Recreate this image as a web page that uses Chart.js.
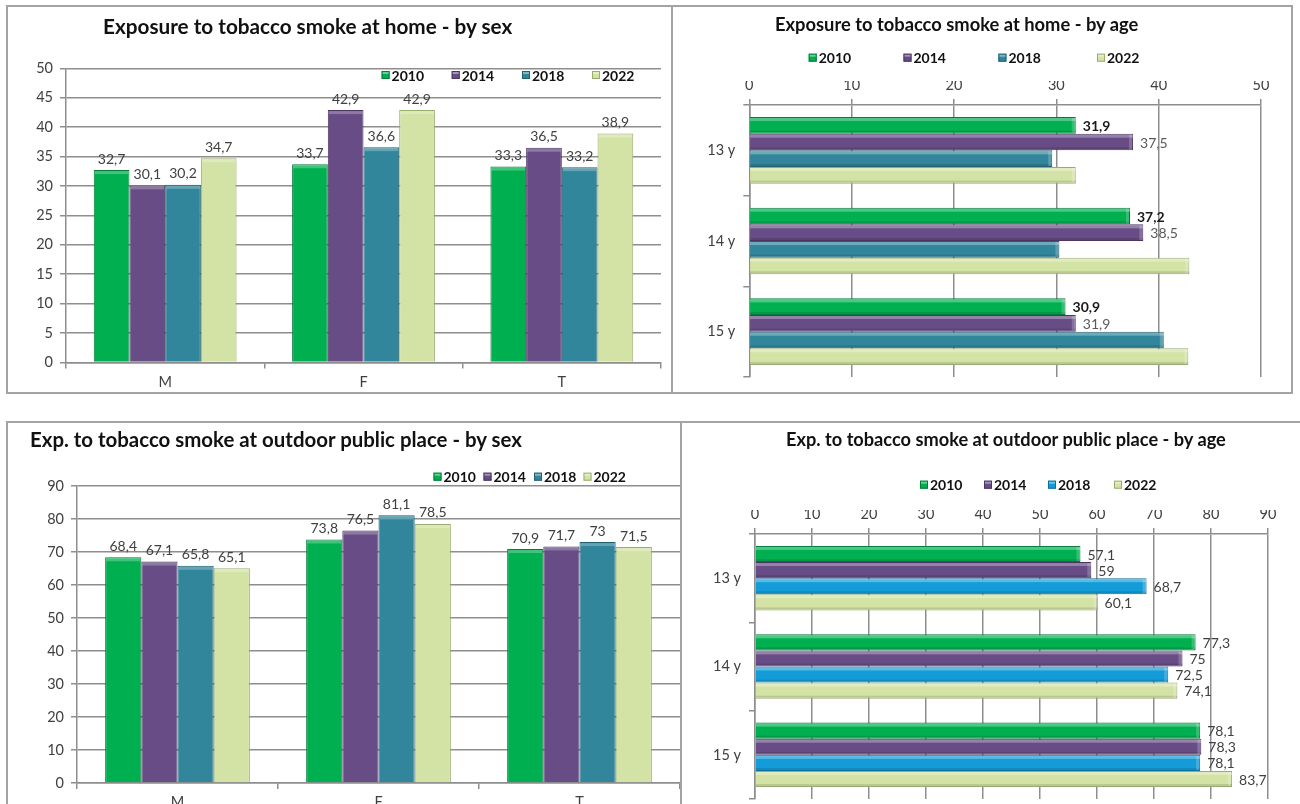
<!DOCTYPE html>
<html>
<head>
<meta charset="utf-8">
<script src="https://cdn.jsdelivr.net/npm/chart.js@4.4.1/dist/chart.umd.min.js"></script>
<style>
html, body { margin: 0; padding: 0; background: #fff; width: 1300px; height: 804px; overflow: hidden; }
.panel { position: absolute; border: 2px solid #a3a3a3; box-sizing: border-box; background: #fff; }
.panel canvas { position: absolute; left: 0; top: 0; }
.ttl { position: absolute; font-family: Lato, "Open Sans", sans-serif; font-weight: bold; color: #111; white-space: nowrap; line-height: 1; }
</style>
</head>
<body>

<div class="panel" style="left:6px;top:5px;width:667px;height:389px"><canvas id="c1"></canvas></div>
<div class="panel" style="left:671px;top:5px;width:622px;height:389px"><canvas id="c2"></canvas></div>
<div class="panel" style="left:6px;top:421px;width:676px;height:400px"><canvas id="c3"></canvas></div>
<div class="panel" style="left:680px;top:421px;width:640px;height:400px"><canvas id="c4"></canvas></div>

<div class="ttl" id="t1">Exposure to tobacco smoke at home - by sex</div>
<div class="ttl" id="t2">Exposure to tobacco smoke at home - by age</div>
<div class="ttl" id="t3">Exp. to tobacco smoke at outdoor public place - by sex</div>
<div class="ttl" id="t4">Exp. to tobacco smoke at outdoor public place - by age</div>

<script>
// ---- data ----
const years = ['2010', '2014', '2018', '2022'];
const sexCats = ['M', 'F', 'T'];
const ageCats = ['13 y', '14 y', '15 y'];

// exposure at home, by sex
const homeSex2010 = [32.7, 33.7, 33.3];
const homeSex2014 = [30.1, 42.9, 36.5];
const homeSex2018 = [30.2, 36.6, 33.2];
const homeSex2022 = [34.7, 42.9, 38.9];
const homeSexTicks = [0, 5, 10, 15, 20, 25, 30, 35, 40, 45, 50];

// exposure at home, by age (2018 / 2022 have no printed labels)
const homeAge2010 = [31.9, 37.2, 30.9];
const homeAge2014 = [37.5, 38.5, 31.9];
const homeAge2018 = [29.6, 30.3, 40.5];
const homeAge2022 = [31.9, 43.0, 42.9];
const homeAgeTicks = [0, 10, 20, 30, 40, 50];

// outdoor public place, by sex
const outSex2010 = [68.4, 73.8, 70.9];
const outSex2014 = [67.1, 76.5, 71.7];
const outSex2018 = [65.8, 81.1, 73];
const outSex2022 = [65.1, 78.5, 71.5];
const outSexTicks = [0, 10, 20, 30, 40, 50, 60, 70, 80, 90];

// outdoor public place, by age
const outAge2010 = [57.1, 77.3, 78.1];
const outAge2014 = [59, 75, 78.3];
const outAge2018 = [68.7, 72.5, 78.1];
const outAge2022 = [60.1, 74.1, 83.7];
const outAgeTicks = [0, 10, 20, 30, 40, 50, 60, 70, 80, 90];

// ---- styles ----
const FONT = 'Lato, "Open Sans", sans-serif';
const GRID = '#8e8e8e';
const fillTeal = ['#00b050', '#684c86', '#31869c', '#d3e3a5'];
const edgeTeal = ['#067a3a', '#4b3563', '#22606f', '#9aab70'];
const fillBlue = ['#00b050', '#684c86', '#139cd8', '#d3e3a5'];
const edgeBlue = ['#067a3a', '#4b3563', '#0d6f9c', '#9aab70'];

Chart.defaults.font.family = FONT;
Chart.defaults.animation = false;

function fmt(v) { return String(v).replace('.', ','); }

// soft bevel on each bar, like the office 3D look
const bevel = {
  id: 'bevel',
  afterDatasetsDraw(chart) {
    const ctx = chart.ctx;
    const horiz = chart.options.indexAxis === 'y';
    chart.data.datasets.forEach((ds, i) => {
      chart.getDatasetMeta(i).data.forEach(bar => {
        const p = bar.getProps(['x', 'y', 'base', 'width', 'height'], true);
        ctx.save();
        if (horiz) {
          const top = p.y - p.height / 2, left = Math.min(p.base, p.x), w = Math.abs(p.x - p.base);
          ctx.fillStyle = 'rgba(255,255,255,0.3)';
          ctx.fillRect(left, top + 1, w, 3);
          ctx.fillStyle = 'rgba(0,0,0,0.12)';
          ctx.fillRect(left, top + p.height - 3, w, 2);
          ctx.fillStyle = 'rgba(255,255,255,0.2)';
          ctx.fillRect(p.x - 4, top + 1, 3, p.height - 2);
        } else {
          const left = p.x - p.width / 2;
          ctx.fillStyle = 'rgba(255,255,255,0.25)';
          ctx.fillRect(left + 1, p.y + 1, p.width - 2, 3);
        }
        ctx.restore();
      });
    });
  }
};

// value labels (comma decimals)
const vlabels = {
  id: 'vlabels',
  afterDatasetsDraw(chart) {
    const ctx = chart.ctx;
    const horiz = chart.options.indexAxis === 'y';
    chart.data.datasets.forEach((ds, i) => {
      const st = ds.labelStyle;
      if (!st || !st.show) return;
      chart.getDatasetMeta(i).data.forEach((bar, j) => {
        const p = bar.getProps(['x', 'y'], true);
        ctx.save();
        ctx.font = (st.bold ? 'bold ' : '') + '14px ' + FONT;
        ctx.fillStyle = st.color;
        if (horiz) {
          ctx.textAlign = 'left';
          ctx.textBaseline = 'middle';
          ctx.fillText(fmt(ds.data[j]), p.x + 7, p.y + 1);
        } else {
          ctx.textAlign = 'center';
          ctx.textBaseline = 'bottom';
          ctx.fillText(fmt(ds.data[j]), p.x, p.y - 4);
        }
        ctx.restore();
      });
    });
  }
};

// legend at fixed spots
const keyBox = {
  id: 'keyBox',
  afterDraw(chart, args, opts) {
    const ctx = chart.ctx;
    chart.data.datasets.forEach((ds, i) => {
      const x = opts.xs[i], y = opts.y;
      ctx.save();
      ctx.fillStyle = ds.backgroundColor;
      ctx.fillRect(x, y - 4, 8, 8);
      ctx.strokeStyle = ds.borderColor;
      ctx.lineWidth = 1;
      ctx.strokeRect(x + 0.5, y - 3.5, 7, 7);
      ctx.fillStyle = 'rgba(255,255,255,0.4)';
      ctx.fillRect(x + 1, y - 3, 6, 2);
      ctx.font = 'bold 14px ' + FONT;
      ctx.fillStyle = '#111';
      ctx.textBaseline = 'middle';
      ctx.fillText(ds.label, x + 10, y + 1);
      ctx.restore();
    });
  }
};

function makeChart(id, o) {
  const cv = document.getElementById(id);
  cv.width = o.w; cv.height = o.h;
  cv.style.width = o.w + 'px'; cv.style.height = o.h + 'px';

  const datasets = years.map((y, i) => ({
    label: y,
    data: o.series[i],
    backgroundColor: o.fills[i],
    borderColor: o.edges[i],
    borderWidth: 1,
    barPercentage: 1,
    categoryPercentage: o.frac,
    labelStyle: o.labels[i]
  }));

  const valAxis = {
    min: o.ticks[0],
    max: o.ticks[o.ticks.length - 1],
    position: o.horiz ? 'top' : 'left',
    ticks: { stepSize: o.ticks[1] - o.ticks[0], color: '#404040', font: { size: 14.5 }, padding: o.horiz ? 5 : 7 },
    grid: { color: GRID, lineWidth: 1.5, tickLength: 6 },
    border: { color: GRID, width: 1.5 },
    afterFit: s => {
      if (o.horiz) s.height = o.valSize; else s.width = o.valSize;
      s.paddingTop = 0; s.paddingBottom = 0; s.paddingLeft = 0; s.paddingRight = 0;
    }
  };
  const catAxis = {
    position: o.horiz ? 'left' : 'bottom',
    ticks: { color: '#404040', font: { size: 14.5 }, padding: o.horiz ? 8 : 5 },
    grid: { drawOnChartArea: false, color: GRID, lineWidth: 1.5, tickLength: 6 },
    border: { color: GRID, width: 1.5 },
    afterFit: s => {
      if (o.horiz) s.width = o.catSize; else s.height = o.catSize;
      s.paddingTop = 0; s.paddingBottom = 0; s.paddingLeft = 0; s.paddingRight = 0;
    }
  };

  return new Chart(cv, {
    type: 'bar',
    data: { labels: o.cats, datasets: datasets },
    options: {
      responsive: false,
      maintainAspectRatio: false,
      indexAxis: o.horiz ? 'y' : 'x',
      layout: { padding: o.pad },
      scales: o.horiz ? { x: valAxis, y: catAxis } : { x: catAxis, y: valAxis },
      plugins: {
        legend: { display: false },
        tooltip: { enabled: false },
        keyBox: { xs: o.keyXs, y: o.keyY }
      }
    },
    plugins: [bevel, vlabels, keyBox]
  });
}

const plain = { show: true, bold: false, color: '#404040' };

makeChart('c1', {
  w: 663, h: 385, horiz: false, cats: sexCats,
  series: [homeSex2010, homeSex2014, homeSex2018, homeSex2022],
  fills: fillTeal, edges: edgeTeal, ticks: homeSexTicks,
  pad: { left: 0, top: 61.3, right: 10, bottom: 0 }, valSize: 58, catSize: 29.5, frac: 0.72,
  keyXs: [373.6, 443.7, 514, 584], keyY: 68,
  labels: [plain, plain, plain, plain]
});

makeChart('c2', {
  w: 618, h: 385, horiz: true, cats: ageCats,
  series: [homeAge2010, homeAge2014, homeAge2018, homeAge2022],
  fills: fillTeal, edges: edgeTeal, ticks: homeAgeTicks,
  pad: { left: 0, top: 74, right: 30, bottom: 15 }, valSize: 24, catSize: 76.3, frac: 0.735,
  keyXs: [135.7, 230.5, 325.4, 424], keyY: 50.7,
  labels: [{ show: true, bold: true, color: '#1a1a1a' }, { show: true, bold: false, color: '#5a5a5a' }, null, null]
});

makeChart('c3', {
  w: 672, h: 396, horiz: false, cats: sexCats,
  series: [outSex2010, outSex2014, outSex2018, outSex2022],
  fills: fillTeal, edges: edgeTeal, ticks: outSexTicks,
  pad: { left: 0, top: 63, right: 0, bottom: 0 }, valSize: 69, catSize: 36, frac: 0.72,
  keyXs: [425.5, 475.5, 526, 575.5], keyY: 53.7,
  labels: [plain, plain, plain, plain]
});

makeChart('c4', {
  w: 618, h: 396, horiz: true, cats: ageCats,
  series: [outAge2010, outAge2014, outAge2018, outAge2022],
  fills: fillBlue, edges: edgeBlue, ticks: outAgeTicks,
  pad: { left: 0, top: 87, right: 32, bottom: 20 }, valSize: 24, catSize: 73, frac: 0.73,
  keyXs: [238, 302, 366, 432], keyY: 61.7,
  labels: [plain, plain, plain, plain]
});

// titles: fit each to the width it takes in the original
const measure = document.createElement('canvas').getContext('2d');
function placeTitle(id, x1, x2, cy) {
  const el = document.getElementById(id);
  measure.font = 'bold 20px ' + FONT;
  const size = 20 * (x2 - x1) / measure.measureText(el.textContent).width;
  el.style.fontSize = size.toFixed(2) + 'px';
  el.style.left = x1 + 'px';
  el.style.top = (cy - size * 0.55) + 'px';
}
placeTitle('t1', 103, 513, 27);
placeTitle('t2', 775, 1139, 25);
placeTitle('t3', 30, 523, 440);
placeTitle('t4', 786, 1227, 440);
</script>
</body>
</html>
